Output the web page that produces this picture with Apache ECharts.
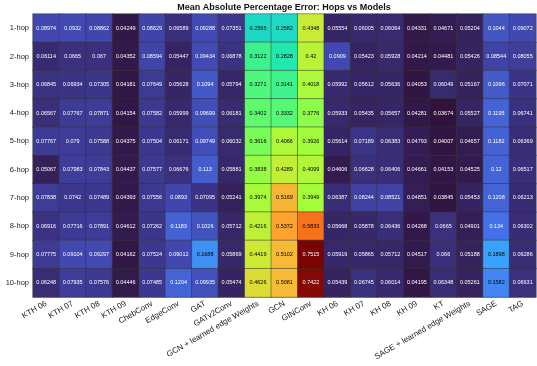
<!DOCTYPE html>
<html><head><meta charset="utf-8">
<script src="https://cdn.jsdelivr.net/npm/echarts@6/dist/echarts.min.js"></script>
<style>html,body{margin:0;padding:0;background:#fff}#c{width:537px;height:366px}</style>
</head><body><div id="c"></div>
<script>
const models = ["KTH 06","KTH 07","KTH 08","KTH 09","ChebConv","EdgeConv","GAT","GATv2Conv","GCN + learned edge Weights","GCN","GINConv","KH 06","KH 07","KH 08","KH 09","KT","SAGE + learned edge Weights","SAGE","TAG"];
const hops = ["1-hop","2-hop","3-hop","4-hop","5-hop","6-hop","7-hop","8-hop","9-hop","10-hop"];
const hop1 = [0.08974,0.0932,0.08862,0.04249,0.08629,0.06589,0.09288,0.07351,0.2565,0.2582,0.4348,0.05554,0.06005,0.06064,0.04331,0.04671,0.05204,0.1044,0.09072];
const hop2 = [0.06114,0.0665,0.067,0.04352,0.08594,0.05447,0.09434,0.06878,0.3122,0.2828,0.42,0.0909,0.05423,0.05928,0.04214,0.04481,0.05426,0.08544,0.08055];
const hop3 = [0.06845,0.06934,0.07305,0.04181,0.07649,0.05628,0.1094,0.05794,0.3271,0.3141,0.4018,0.05992,0.05612,0.05636,0.04053,0.06049,0.05167,0.1096,0.07071];
const hop4 = [0.06567,0.07767,0.07871,0.04154,0.07582,0.05999,0.09699,0.06181,0.3402,0.3332,0.3776,0.05933,0.05435,0.05657,0.04281,0.03674,0.05527,0.1195,0.06741];
const hop5 = [0.07767,0.079,0.07588,0.04375,0.07504,0.06171,0.09749,0.06032,0.3616,0.4066,0.3926,0.05614,0.07189,0.06383,0.04793,0.04007,0.04657,0.1182,0.06369];
const hop6 = [0.05067,0.07983,0.07843,0.04437,0.07577,0.06676,0.113,0.05881,0.3838,0.4289,0.4099,0.04606,0.06628,0.06406,0.04661,0.04153,0.04525,0.12,0.06517];
const hop7 = [0.07838,0.0742,0.07489,0.04393,0.07556,0.0893,0.07095,0.05241,0.3974,0.5169,0.3949,0.06387,0.08244,0.08521,0.04851,0.03845,0.05453,0.1208,0.06213];
const hop8 = [0.06916,0.07716,0.07891,0.04612,0.07262,0.1183,0.1026,0.05712,0.4216,0.5372,0.5833,0.05668,0.05878,0.06436,0.04268,0.0665,0.04901,0.134,0.06302];
const hop9 = [0.07775,0.09104,0.09297,0.04162,0.07524,0.09012,0.1688,0.05869,0.4419,0.5102,0.7515,0.05919,0.05865,0.05712,0.04517,0.066,0.05188,0.1898,0.06286];
const hop10 = [0.06248,0.07935,0.07576,0.04446,0.07485,0.1204,0.09935,0.05474,0.4626,0.5081,0.7422,0.05439,0.06745,0.06014,0.04195,0.06348,0.05261,0.1582,0.06631];
const rows = [hop1,hop2,hop3,hop4,hop5,hop6,hop7,hop8,hop9,hop10];
const turbo = ['#30123b','#4145ab','#4675ed','#39a2fc','#1bcfd4','#24eca6','#61fc6c','#a4fc3b','#d1e834','#f3c63a','#fe9b2d','#f36315','#d93806','#b11901','#7a0403'];

const data = [];
let vmin = Infinity, vmax = -Infinity;
rows.forEach((r, yi) => r.forEach((v, xi) => {
  vmin = Math.min(vmin, v); vmax = Math.max(vmax, v);
  const dark = v < 0.15 || v > 0.7;
  data.push({value: [xi, yi, v], label: {color: dark ? '#ffffff' : '#000000'}});
}));

const chart = echarts.init(document.getElementById('c'), null, {renderer: 'canvas'});
chart.setOption({
  animation: false,
  backgroundColor: '#fff',
  title: {text: 'Mean Absolute Percentage Error: Hops vs Models', left: 284, textAlign: 'center', top: 3, padding: 0,
    textStyle: {fontFamily: 'Liberation Sans', fontSize: 9, fontWeight: 'bold', color: '#111'}},
  grid: {left: 33, right: 1, top: 14, bottom: 69},
  xAxis: {type: 'category', data: models, splitArea: {show: false},
    axisLine: {show: true, lineStyle: {color: '#bbb', width: 1}}, axisTick: {show: false},
    axisLabel: {rotate: 30, fontSize: 8, color: '#222', fontFamily: 'Liberation Sans', interval: 0, margin: 6}},
  yAxis: {type: 'category', data: hops, inverse: true,
    axisLine: {show: true, lineStyle: {color: '#bbb', width: 1}}, axisTick: {show: false},
    axisLabel: {fontSize: 7.5, color: '#222', fontFamily: 'Liberation Sans', margin: 4}},
  visualMap: {show: false, min: vmin, max: vmax, dimension: 2, inRange: {color: turbo}},
  series: [{type: 'heatmap', data: data,
    itemStyle: {borderColor: '#333', borderWidth: 0.5},
    label: {show: true, fontSize: 5.5, fontFamily: 'Liberation Sans',
      formatter: p => String(p.value[2])},
  }]
});
</script></body></html>
